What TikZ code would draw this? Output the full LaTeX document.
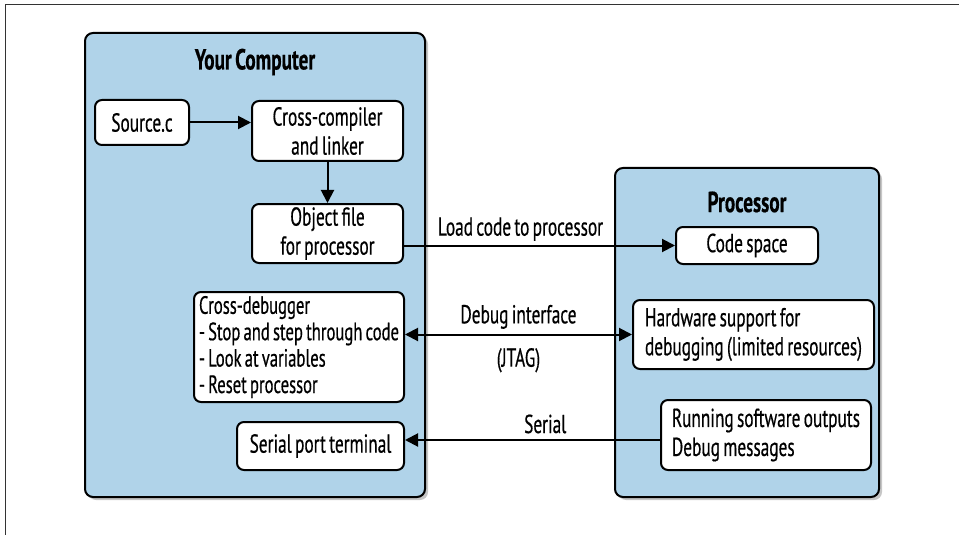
\documentclass[tikz,border=0pt]{standalone}
\usepackage{fontspec}
\setmainfont[FakeStretch=0.665, WordSpace=0.72, FakeBold=0.5]{PT Sans}
\usepackage{xcolor}
\usetikzlibrary{positioning,shadows,arrows.meta,calc}

\definecolor{panelblue}{RGB}{176,211,233}

\begin{document}
\begin{tikzpicture}[x=0.5pt,y=-0.5pt,
		font=\fontsize{13}{14.5}\selectfont,
		panel/.style={draw, line width=1pt, rounded corners=4pt, fill=panelblue, inner sep=0pt,
		drop shadow={shadow xshift=1.5pt, shadow yshift=-1.5pt, opacity=0.45}},
		title/.style={font=\fontsize{14.5}{16}\selectfont\bfseries},
		box/.style={draw, line width=1pt, rounded corners=3.5pt, fill=white, inner sep=0pt, align=center},
		lbox/.style={box, align=left},
		link/.style={line width=1pt, -{Triangle[length=6.5pt,width=6.5pt]}},
		dlink/.style={line width=1pt, {Triangle[length=6.5pt,width=6.5pt]}-{Triangle[length=6.5pt,width=6.5pt]}}]

		\useasboundingbox (0,0) rectangle (959,535);
		\draw[line width=0.5pt, black!80] (959,5) -- (5,5) -- (5,535);

		% the two panels
		\node[panel, minimum width=170pt, minimum height=232pt] (yourComputer) at (255,265) {};
		\node[panel, minimum width=132pt, minimum height=164.5pt] (processor) at (747,332.5) {};
		\node[title] (ycTitle) at (255,62) {Your Computer};
		\node[title] (procTitle) at (747,202) {Processor};

		% host side
		\node[box, minimum width=47pt, minimum height=22.5pt] (source) at (142,122.5) {Source.c};
		\node[box, minimum width=75.5pt, minimum height=30pt] (crossCompiler) at (327.5,131) {Cross-compiler\\and linker};
		\node[box, minimum width=75.5pt, minimum height=29.5pt] (objectFile) at (327.5,233.5) {Object file\\for processor};
		\node[lbox, minimum width=105pt, minimum height=55pt,
			font=\fontsize{12.5}{13.2}\selectfont] (crossDebugger) at (299,347)
			{Cross-debugger\\- Stop and step through code\\- Look at variables\\- Reset processor};
		\node[box, minimum width=83.5pt, minimum height=24pt] (serialTerm) at (320.5,446) {Serial port terminal};

		% target side
		\node[box, minimum width=71pt, minimum height=18.5pt] (codeSpace) at (747,245.5) {Code space};
		\node[lbox, minimum width=120.5pt, minimum height=34.5pt] (hwSupport) at (753.5,334.5)
			{Hardware support for\\debugging (limited resources)};
		\node[lbox, minimum width=105pt, minimum height=35pt] (runSw) at (766,435)
			{Running software outputs\\Debug messages};

		% connectors
		\draw[link] (source.east) -- (source.east -| crossCompiler.west);
		\draw[link] (crossCompiler) -- (objectFile);
		\draw[link] (codeSpace.west -| objectFile.east) -- node[pos=0.43, above=-1.5pt] {Load code to processor} (codeSpace.west);
		\draw[dlink] (hwSupport.west -| crossDebugger.east) -- node[above=-1pt] {Debug interface}
			node[below=3pt] {(JTAG)} (hwSupport.west);
		\draw[link] ([yshift=-2.5pt]runSw.west) -- node[pos=0.45, above=-0.5pt] {Serial} ([yshift=-2.5pt]runSw.west -| serialTerm.east);
	\end{tikzpicture}
\end{document}
